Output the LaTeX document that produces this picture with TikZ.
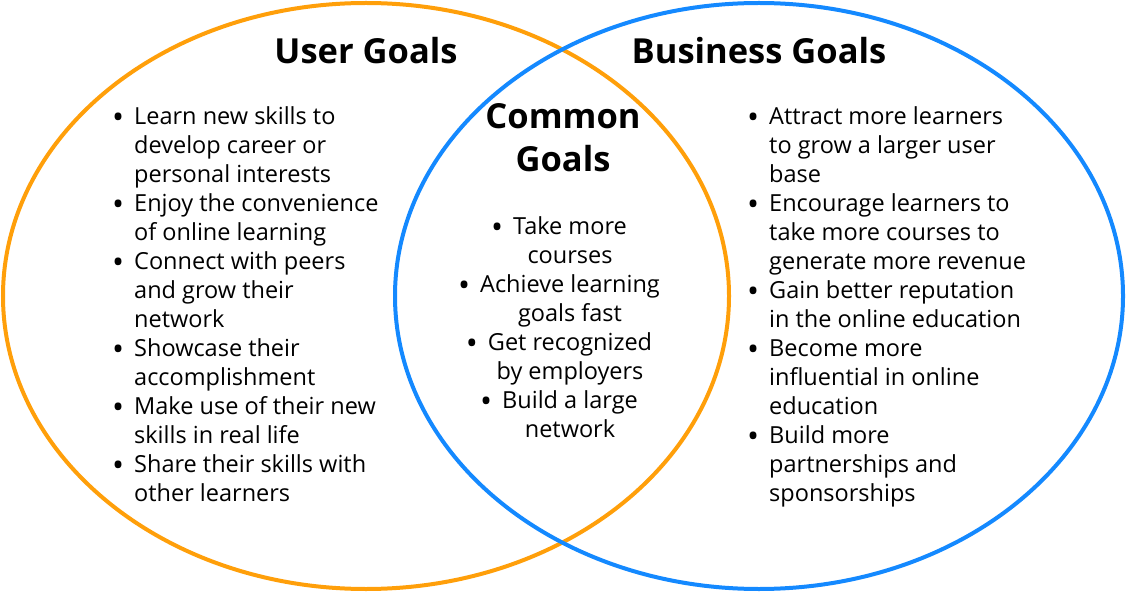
\documentclass[tikz,border=0pt]{standalone}
\usepackage{fontspec}
\setmainfont{Open Sans}
\usetikzlibrary{positioning}
\definecolor{cUser}{RGB}{255,159,10}
\definecolor{cBiz}{RGB}{20,137,255}
\newcommand{\bul}{\llap{\raisebox{-4pt}{\fontsize{32}{29}\selectfont\textbullet}\hspace{10pt}}}
\tikzset{
	goalring/.style={line width=4pt},
	title/.style   ={font=\fontsize{34.5}{43}\selectfont\bfseries, align=center, inner sep=0pt},
	goallist/.style={font=\fontsize{23.5}{29}\selectfont, align=left, inner sep=0pt},
	midlist/.style ={font=\fontsize{23.5}{29}\selectfont, align=center, inner sep=0pt},
}
\begin{document}
\begin{tikzpicture}[x=1pt, y=-1pt]
	\useasboundingbox (0,0) rectangle (1126,593);
	% the two goal sets
	\draw[goalring, draw=cUser] (366,296) ellipse [x radius=363pt, y radius=293pt];
	\draw[goalring, draw=cBiz] (759,296) ellipse [x radius=364pt, y radius=293pt];
	% titles
	\node[title, anchor=base] (tuser) at (366,64) {User Goals};
	\node[title, anchor=base] (tbiz) at (759,64) {Business Goals};
	\node[title, anchor=north] (tcom) at (563,103) {Common\\Goals};
	% lists
	\node[goallist, anchor=north west] (luser) at (134,106) {\bul Learn new skills to\\develop career or\\personal interests\\\bul Enjoy the convenience\\of online learning\\\bul Connect with peers\\and grow their\\network\\\bul Showcase their\\accomplishment\\\bul Make use of their new\\skills in real life\\\bul Share their skills with\\other learners};
	\node[goallist, anchor=north west] (lbiz) at (769,106) {\bul Attract more learners\\to grow a larger user\\base\\\bul Encourage learners to\\take more courses to\\generate more revenue\\\bul Gain better reputation\\in the online education\\\bul Become more\\influential in online\\education\\\bul Build more\\partnerships and\\sponsorships};
	\node[midlist, anchor=north] (lcom) at (570,216) {\bul Take more\\courses\\\bul Achieve learning\\goals fast\\\bul Get recognized\\by employers\\\bul Build a large\\network};
\end{tikzpicture}
\end{document}
